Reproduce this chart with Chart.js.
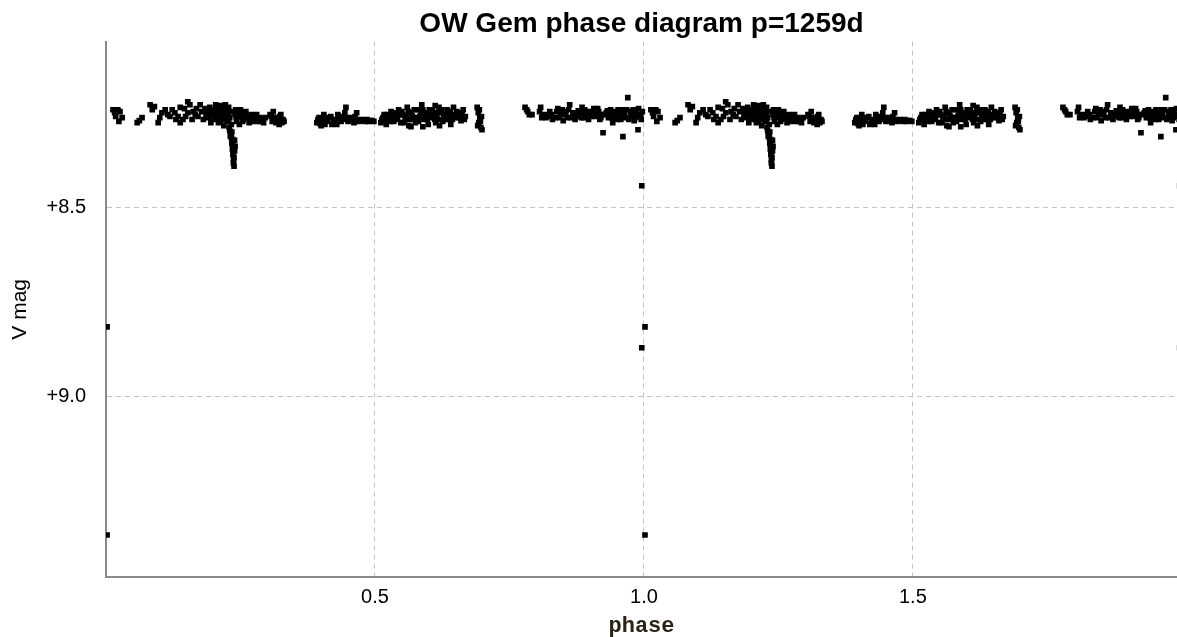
<!DOCTYPE html>
<html>
<head>
<meta charset="utf-8">
<script src="https://cdn.jsdelivr.net/npm/chart.js@4.4.1/dist/chart.umd.min.js"></script>
<style>
  html, body { margin: 0; background: #fff; overflow: hidden; }
  #wrap { width: 1177px; height: 637px; }
</style>
</head>
<body>
<div id="wrap"><canvas id="myChart"></canvas></div>
<script>
const chartTitle = "OW Gem phase diagram p=1259d";
const xTitle = "phase";
const yTitle = "V mag";
const xTicks = [0.5, 1.0, 1.5];
const yTicks = [8.5, 9.0];

// observations, [phase, V mag], phase 0..1 (plotted twice)
const segA = [
  [0.013, 8.241], [0.022, 8.241], [0.018, 8.259], [0.024, 8.272], [0.058, 8.275],
  [0.067, 8.262], [0.082, 8.228], [0.086, 8.241], [0.097, 8.275], [0.104, 8.249],
  [0.110, 8.241], [0.119, 8.259], [0.123, 8.241], [0.134, 8.259], [0.138, 8.235],
  [0.138, 8.275], [0.143, 8.267], [0.152, 8.220], [0.152, 8.249], [0.160, 8.267],
  [0.162, 8.246], [0.171, 8.259], [0.175, 8.228],
  [0.188, 8.241], [0.190, 8.262], [0.193, 8.235], [0.195, 8.275], [0.199, 8.249],
  [0.201, 8.267], [0.204, 8.228], [0.206, 8.254], [0.209, 8.275], [0.212, 8.241],
  [0.214, 8.262], [0.217, 8.232], [0.219, 8.283], [0.221, 8.254], [0.223, 8.241],
  [0.225, 8.272], [0.227, 8.259], [0.229, 8.288], [0.231, 8.246],
  [0.232, 8.300], [0.233, 8.315], [0.234, 8.330], [0.235, 8.345], [0.236, 8.360],
  [0.237, 8.375], [0.238, 8.390], [0.236, 8.320], [0.239, 8.350],
  [0.242, 8.262], [0.245, 8.246], [0.248, 8.280], [0.251, 8.254], [0.254, 8.272],
  [0.258, 8.249], [0.262, 8.262], [0.266, 8.275], [0.270, 8.254], [0.274, 8.267],
  [0.278, 8.259], [0.282, 8.272], [0.286, 8.262], [0.290, 8.267], [0.293, 8.275],
  [0.296, 8.262], [0.305, 8.254], [0.309, 8.272], [0.314, 8.262], [0.318, 8.267],
  [0.323, 8.259], [0.327, 8.275], [0.329, 8.267],
  [0.016, 8.249], [0.026, 8.246], [0.030, 8.262], [0.062, 8.270], [0.090, 8.233],
  [0.100, 8.262], [0.115, 8.254], [0.128, 8.249], [0.130, 8.267], [0.146, 8.238],
  [0.148, 8.259], [0.156, 8.228], [0.166, 8.254], [0.168, 8.238], [0.178, 8.246],
  [0.181, 8.267], [0.184, 8.238], [0.186, 8.254], [0.191, 8.249], [0.197, 8.259],
  [0.203, 8.241], [0.207, 8.262], [0.210, 8.252], [0.213, 8.272], [0.216, 8.246],
  [0.218, 8.259], [0.220, 8.267], [0.222, 8.228], [0.224, 8.262], [0.226, 8.249],
  [0.228, 8.272], [0.230, 8.262], [0.233, 8.280], [0.234, 8.300], [0.235, 8.325],
  [0.236, 8.340], [0.237, 8.355], [0.238, 8.368], [0.237, 8.382], [0.240, 8.254],
  [0.243, 8.272], [0.247, 8.259], [0.250, 8.241], [0.253, 8.262], [0.256, 8.267],
  [0.260, 8.246], [0.264, 8.257], [0.268, 8.264], [0.272, 8.272], [0.276, 8.262],
  [0.280, 8.254], [0.284, 8.267], [0.288, 8.272], [0.307, 8.259], [0.311, 8.246],
  [0.316, 8.275], [0.320, 8.270], [0.325, 8.254], [0.331, 8.272], [0.322, 8.280],
  [0.230, 8.296], [0.231, 8.310], [0.239, 8.322], [0.240, 8.338], [0.228, 8.235],
  [0.241, 8.241], [0.212, 8.230], [0.196, 8.244]
];

const segB = [
  [0.392, 8.275], [0.396, 8.262], [0.400, 8.283], [0.405, 8.254], [0.409, 8.272],
  [0.414, 8.262], [0.420, 8.280], [0.426, 8.267], [0.431, 8.254], [0.437, 8.272],
  [0.442, 8.267], [0.446, 8.235], [0.450, 8.272], [0.456, 8.262], [0.461, 8.275],
  [0.466, 8.249], [0.470, 8.272], [0.476, 8.267], [0.482, 8.272], [0.488, 8.272],
  [0.494, 8.270], [0.498, 8.272],
  [0.513, 8.267], [0.517, 8.254], [0.521, 8.280], [0.526, 8.262], [0.530, 8.246],
  [0.535, 8.272], [0.540, 8.259], [0.544, 8.241], [0.548, 8.275], [0.552, 8.254],
  [0.556, 8.267], [0.560, 8.235], [0.563, 8.283], [0.567, 8.249], [0.571, 8.262],
  [0.575, 8.275], [0.579, 8.241], [0.583, 8.259], [0.587, 8.228], [0.591, 8.267],
  [0.595, 8.249], [0.599, 8.280], [0.603, 8.254], [0.607, 8.241], [0.611, 8.267],
  [0.615, 8.259], [0.619, 8.235], [0.622, 8.249], [0.626, 8.272], [0.630, 8.259],
  [0.634, 8.241], [0.638, 8.267], [0.642, 8.254], [0.646, 8.235], [0.650, 8.262],
  [0.655, 8.249], [0.660, 8.270], [0.664, 8.241], [0.668, 8.259],
  [0.690, 8.235], [0.692, 8.249], [0.695, 8.262], [0.693, 8.275], [0.697, 8.288],
  [0.699, 8.294],
  [0.394, 8.267], [0.398, 8.278], [0.403, 8.267], [0.407, 8.280], [0.412, 8.270],
  [0.418, 8.259], [0.423, 8.272], [0.429, 8.280], [0.434, 8.264], [0.439, 8.259],
  [0.444, 8.249], [0.448, 8.262], [0.453, 8.270], [0.458, 8.267], [0.463, 8.259],
  [0.468, 8.267], [0.473, 8.270], [0.479, 8.270], [0.485, 8.267], [0.491, 8.270],
  [0.511, 8.275], [0.515, 8.262], [0.519, 8.270], [0.524, 8.254], [0.528, 8.272],
  [0.533, 8.259], [0.537, 8.249], [0.542, 8.267], [0.546, 8.254], [0.550, 8.246],
  [0.554, 8.275], [0.558, 8.259], [0.562, 8.246], [0.565, 8.267], [0.569, 8.257],
  [0.573, 8.241], [0.577, 8.262], [0.581, 8.272], [0.585, 8.249], [0.589, 8.241],
  [0.593, 8.259], [0.597, 8.267], [0.601, 8.241], [0.605, 8.262], [0.609, 8.254],
  [0.613, 8.275], [0.617, 8.249], [0.621, 8.267], [0.624, 8.241], [0.628, 8.254],
  [0.632, 8.267], [0.636, 8.254], [0.640, 8.246], [0.644, 8.267], [0.648, 8.254],
  [0.652, 8.246], [0.657, 8.262], [0.662, 8.254], [0.666, 8.267], [0.691, 8.283],
  [0.694, 8.241], [0.696, 8.272], [0.698, 8.259],
  [0.567, 8.286], [0.589, 8.286], [0.612, 8.230], [0.641, 8.280], [0.620, 8.283]
];

const segC = [
  [0.779, 8.235], [0.784, 8.246], [0.792, 8.254], [0.808, 8.235], [0.812, 8.259],
  [0.818, 8.262], [0.825, 8.246], [0.830, 8.267], [0.840, 8.238], [0.845, 8.254],
  [0.850, 8.270], [0.853, 8.246], [0.858, 8.262], [0.862, 8.228], [0.868, 8.249],
  [0.872, 8.267], [0.878, 8.244], [0.882, 8.259], [0.885, 8.235], [0.888, 8.262],
  [0.893, 8.249], [0.897, 8.267], [0.905, 8.246], [0.910, 8.259], [0.914, 8.238],
  [0.918, 8.267], [0.922, 8.254], [0.924, 8.302], [0.930, 8.249], [0.934, 8.262],
  [0.938, 8.241], [0.942, 8.275], [0.946, 8.249], [0.950, 8.267], [0.955, 8.254],
  [0.961, 8.312], [0.962, 8.241], [0.966, 8.262], [0.970, 8.209], [0.975, 8.246],
  [0.978, 8.259], [0.982, 8.270], [0.985, 8.246], [0.989, 8.294], [0.992, 8.254],
  [0.995, 8.267],
  [0.782, 8.241], [0.787, 8.254], [0.806, 8.246], [0.810, 8.262], [0.815, 8.254],
  [0.821, 8.259], [0.828, 8.254], [0.835, 8.262], [0.838, 8.246], [0.843, 8.262],
  [0.848, 8.241], [0.855, 8.254], [0.860, 8.241], [0.865, 8.262], [0.870, 8.254],
  [0.875, 8.259], [0.880, 8.246], [0.884, 8.262], [0.887, 8.249], [0.890, 8.241],
  [0.895, 8.259], [0.899, 8.246], [0.902, 8.259], [0.907, 8.238], [0.912, 8.254],
  [0.916, 8.246], [0.920, 8.262], [0.927, 8.254], [0.932, 8.244], [0.936, 8.254],
  [0.940, 8.262], [0.944, 8.246], [0.948, 8.259], [0.952, 8.241], [0.957, 8.267],
  [0.960, 8.249], [0.964, 8.254], [0.968, 8.241], [0.972, 8.267], [0.976, 8.254],
  [0.980, 8.241], [0.984, 8.262], [0.987, 8.254], [0.990, 8.238], [0.994, 8.259],
  [0.997, 8.246]
];

const outliers = [
  [0.996, 8.442], [0.996, 8.870], [0.002, 8.815], [0.002, 9.365]
];

const allObs = segA.concat(segB, segC, outliers);

function toPoints(list, cycle) {
  return list.map(p => ({ x: p[0] + cycle, y: p[1] }));
}

const ctx = document.getElementById("myChart");

new Chart(ctx, {
  type: "scatter",
  data: {
    datasets: [
      { data: toPoints(allObs, 0) },
      { data: toPoints(allObs, 1) }
    ]
  },
  options: {
    responsive: true,
    maintainAspectRatio: false,
    animation: false,
    layout: { autoPadding: false, padding: 0 },
    elements: {
      point: {
        pointStyle: "rect",
        radius: 4,
        backgroundColor: "#000",
        borderWidth: 0,
        hoverRadius: 4
      }
    },
    plugins: {
      legend: { display: false },
      tooltip: { enabled: false },
      title: {
        display: true,
        text: chartTitle,
        fullSize: false,
        color: "#000",
        font: { family: "Liberation Sans", size: 28, weight: "bold" },
        padding: { top: 7, bottom: 1 }
      }
    },
    scales: {
      x: {
        type: "linear",
        min: 0,
        max: 1.991,
        afterBuildTicks: axis => { axis.ticks = xTicks.map(v => ({ value: v })); },
        afterFit: axis => { axis.height = 60; },
        ticks: {
          color: "#000",
          font: { family: "Liberation Sans", size: 20 },
          padding: 8,
          maxRotation: 0,
          autoSkip: false,
          callback: v => v.toFixed(1)
        },
        grid: { color: "#c4c4c4", drawTicks: false },
        border: { color: "#8a8a8a", width: 2, dash: [5, 4] },
        title: {
          display: true,
          text: xTitle,
          color: "#2a2418",
          font: { family: "Liberation Mono", size: 22, weight: "bold", lineHeight: 1 },
          padding: { top: 0, bottom: 0 }
        }
      },
      y: {
        type: "linear",
        reverse: true,
        min: 8.061,
        max: 9.476,
        afterBuildTicks: axis => { axis.ticks = yTicks.map(v => ({ value: v })); },
        afterFit: axis => { axis.width = 106; },
        ticks: {
          color: "#000",
          font: { family: "Liberation Sans", size: 20 },
          padding: 20,
          callback: v => "+" + v.toFixed(1)
        },
        grid: { color: "#c4c4c4", drawTicks: false },
        border: { color: "#8a8a8a", width: 2, dash: [5, 4] },
        title: {
          display: true,
          text: yTitle,
          color: "#000",
          font: { family: "Liberation Sans", size: 21, lineHeight: 1 },
          padding: { top: 10, bottom: 0 }
        }
      }
    }
  }
});
</script>
</body>
</html>
